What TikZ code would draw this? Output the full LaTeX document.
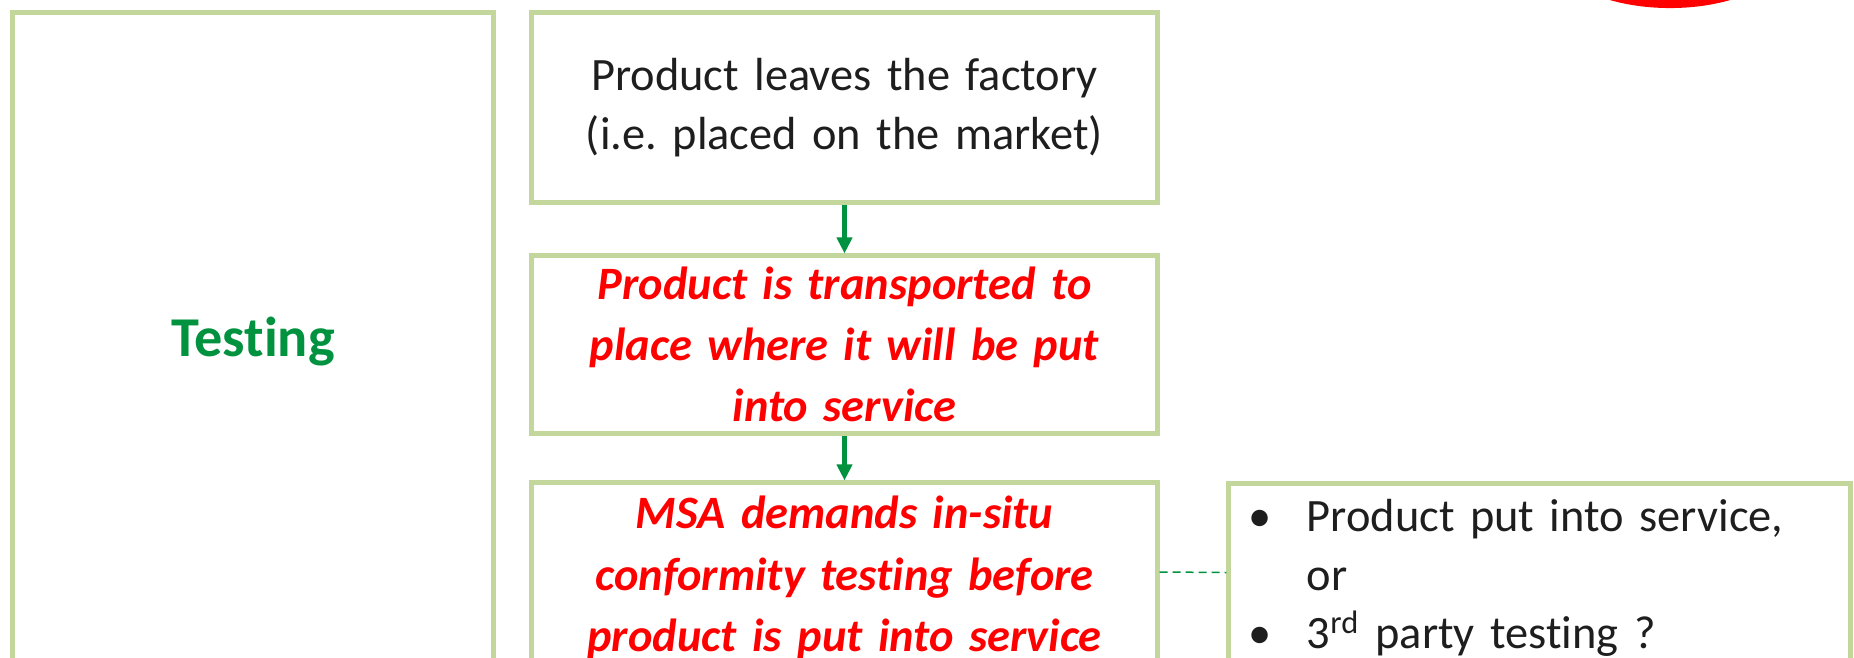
\documentclass[tikz,border=0pt]{standalone}
\usepackage{fontspec}
\setmainfont{Carlito}[Ligatures=CommonOff]
\usepackage{tikz}
\usetikzlibrary{arrows.meta}
\definecolor{boxgreen}{HTML}{C3D69B}
\definecolor{flowgreen}{HTML}{00923F}
\definecolor{inkblack}{HTML}{1E1E1E}
\frenchspacing

\begin{document}
\begin{tikzpicture}[x=0.01cm,y=-0.01cm,
    box/.style={draw=boxgreen,line width=0.05cm,inner sep=0pt,align=center},
    plaintext/.style={font=\fontsize{13.2}{16.7}\selectfont,text=inkblack},
    redtext/.style={font=\fontsize{13.2}{17.4}\selectfont\bfseries\itshape,text=red},
    >={Triangle[width=0.15cm,length=0.16cm]}]
    \useasboundingbox (0,0) rectangle (1854,657);
    %boxes
    \node[box,minimum width=4.8cm,minimum height=6.57cm,
          font=\fontsize{16}{19}\selectfont\bfseries,text=flowgreen] (testbox) at (253,341.5) {Testing};
    \node[box,plaintext,text width=6.25cm,minimum height=1.89cm] (leaves) at (844.5,107.5)
        {Product leaves the factory\\(i.e. placed on the market)};
    \node[box,redtext,text width=6.25cm,minimum height=1.77cm] (transp) at (844.5,344.5)
        {Product is transported to\\place where it will be put\\into service};
    \node[box,redtext,text width=6.25cm,minimum height=1.89cm] (msa) at (844.5,577.5)
        {MSA demands in-situ\\conformity testing before\\product is put into service};
    \node[box,plaintext,text width=5.81cm,inner xsep=0.2cm,minimum height=1.88cm,align=left] (outcome) at (1539.5,578)
        {\makebox[0.58cm][l]{\textbullet}Product put into service,\\
         \makebox[0.58cm][l]{}or\\
         \makebox[0.58cm][l]{\textbullet}3\textsuperscript{rd} party testing ?};
    %edges
    \path[->,flowgreen,line width=0.045cm]
     (leaves) edge (transp)
     (transp) edge (msa);
    \draw[flowgreen,line width=0.015cm,dash pattern=on 0.08cm off 0.05cm]
     ([yshift=0.055cm]msa.east) -- ([yshift=0.055cm]outcome.west);
    %mark
    \draw[red,line width=0.08cm] (1670,-60) ellipse [x radius=1.23cm,y radius=0.64cm];
\end{tikzpicture}
\end{document}
